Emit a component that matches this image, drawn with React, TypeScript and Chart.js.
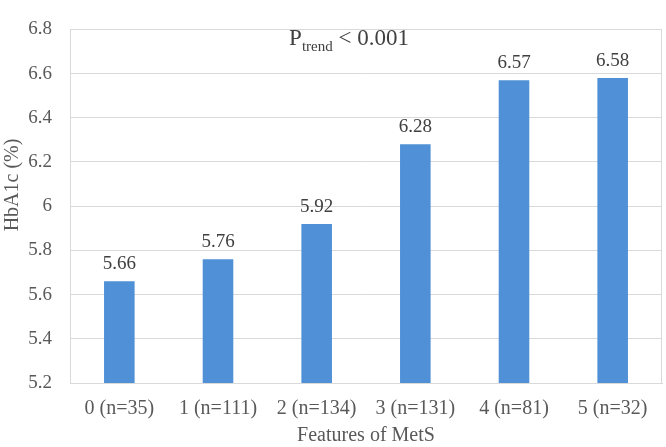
import React, { useEffect, useRef } from "react";
import { Chart, registerables } from "chart.js";

Chart.register(...registerables);

const categories = ["0 (n=35)", "1 (n=111)", "2 (n=134)", "3 (n=131)", "4 (n=81)", "5 (n=32)"];
const hba1c = [5.66, 5.76, 5.92, 6.28, 6.57, 6.58];
const valueLabels = ["5.66", "5.76", "5.92", "6.28", "6.57", "6.58"];
const yTitle = "HbA1c (%)";
const xTitle = "Features of MetS";
const annotMain = "P";
const annotSub = "trend";
const annotTail = " < 0.001";

const FONT = "'Liberation Serif', 'Times New Roman', serif";
const GRID = "#D9D9D9";
const TEXT = "#595959";

const overlay = {
  id: "overlay",
  beforeDatasetsDraw(chart: any) {
    const { ctx, chartArea } = chart;
    ctx.save();
    ctx.strokeStyle = GRID;
    ctx.lineWidth = 1;
    ctx.strokeRect(Math.round(chartArea.left) + 0.5, Math.round(chartArea.top) + 0.5,
      Math.round(chartArea.right - chartArea.left) - 1, Math.round(chartArea.bottom - chartArea.top));
    ctx.restore();
  },
  afterDatasetsDraw(chart: any) {
    const { ctx, chartArea } = chart;
    const meta = chart.getDatasetMeta(0);
    ctx.save();
    ctx.fillStyle = "#404040";
    ctx.font = `19px ${FONT}`;
    ctx.textAlign = "center";
    ctx.textBaseline = "alphabetic";
    meta.data.forEach((bar: any, i: number) => {
      ctx.fillText(valueLabels[i], bar.x, bar.y - 12);
    });
    // axis titles
    ctx.fillStyle = TEXT;
    ctx.font = `20px ${FONT}`;
    ctx.textBaseline = "middle";
    ctx.fillText(xTitle, (chartArea.left + chartArea.right) / 2, 436);
    ctx.save();
    ctx.translate(13, 185);
    ctx.rotate(-Math.PI / 2);
    ctx.fillText(yTitle, 0, 0);
    ctx.restore();
    // annotation
    ctx.fillStyle = "#404040";
    ctx.textAlign = "left";
    ctx.textBaseline = "alphabetic";
    const big = `23px ${FONT}`;
    const small = `15px ${FONT}`;
    ctx.font = big;
    const w1 = ctx.measureText(annotMain).width;
    const w3 = ctx.measureText(annotTail).width;
    ctx.font = small;
    const w2 = ctx.measureText(annotSub).width;
    let x = 349 - (w1 + w2 + w3) / 2;
    const base = 45;
    ctx.font = big;
    ctx.fillText(annotMain, x, base);
    x += w1;
    ctx.font = small;
    ctx.fillText(annotSub, x, base + 6);
    x += w2;
    ctx.font = big;
    ctx.fillText(annotTail, x, base);
    ctx.restore();
  },
};

export default function App() {
  const ref = useRef<HTMLCanvasElement>(null);
  useEffect(() => {
    document.body.style.margin = "0";
    const chart = new Chart(ref.current!, {
      type: "bar",
      data: {
        labels: categories,
        datasets: [
          {
            data: hba1c,
            backgroundColor: "#4F90D6",
            borderWidth: 0,
            barPercentage: 0.31,
            categoryPercentage: 1,
          },
        ],
      },
      options: {
        animation: false,
        responsive: false,
        maintainAspectRatio: false,
        layout: { padding: { top: 13, right: 4, left: 0, bottom: 0 } },
        plugins: { legend: { display: false }, tooltip: { enabled: false } },
        scales: {
          x: {
            grid: { display: false, drawTicks: false },
            border: { display: true, color: GRID },
            ticks: { color: TEXT, font: { family: FONT, size: 20 }, padding: 14, maxRotation: 0, autoSkip: false },
            afterFit: (s: any) => { s.height = 64; },
          },
          y: {
            min: 5.2,
            max: 6.8,
            grid: { color: GRID, drawTicks: false },
            border: { display: true, color: GRID },
            ticks: {
              stepSize: 0.2,
              color: TEXT,
              font: { family: FONT, size: 19 },
              padding: 18,
              callback: (v: any) => String(Number(Number(v).toFixed(1))),
            },
            afterFit: (s: any) => { s.width = 70; },
          },
        },
      },
      plugins: [overlay],
    });
    return () => chart.destroy();
  }, []);
  return <canvas ref={ref} width={666} height={447} style={{ display: "block" }} />;
}
